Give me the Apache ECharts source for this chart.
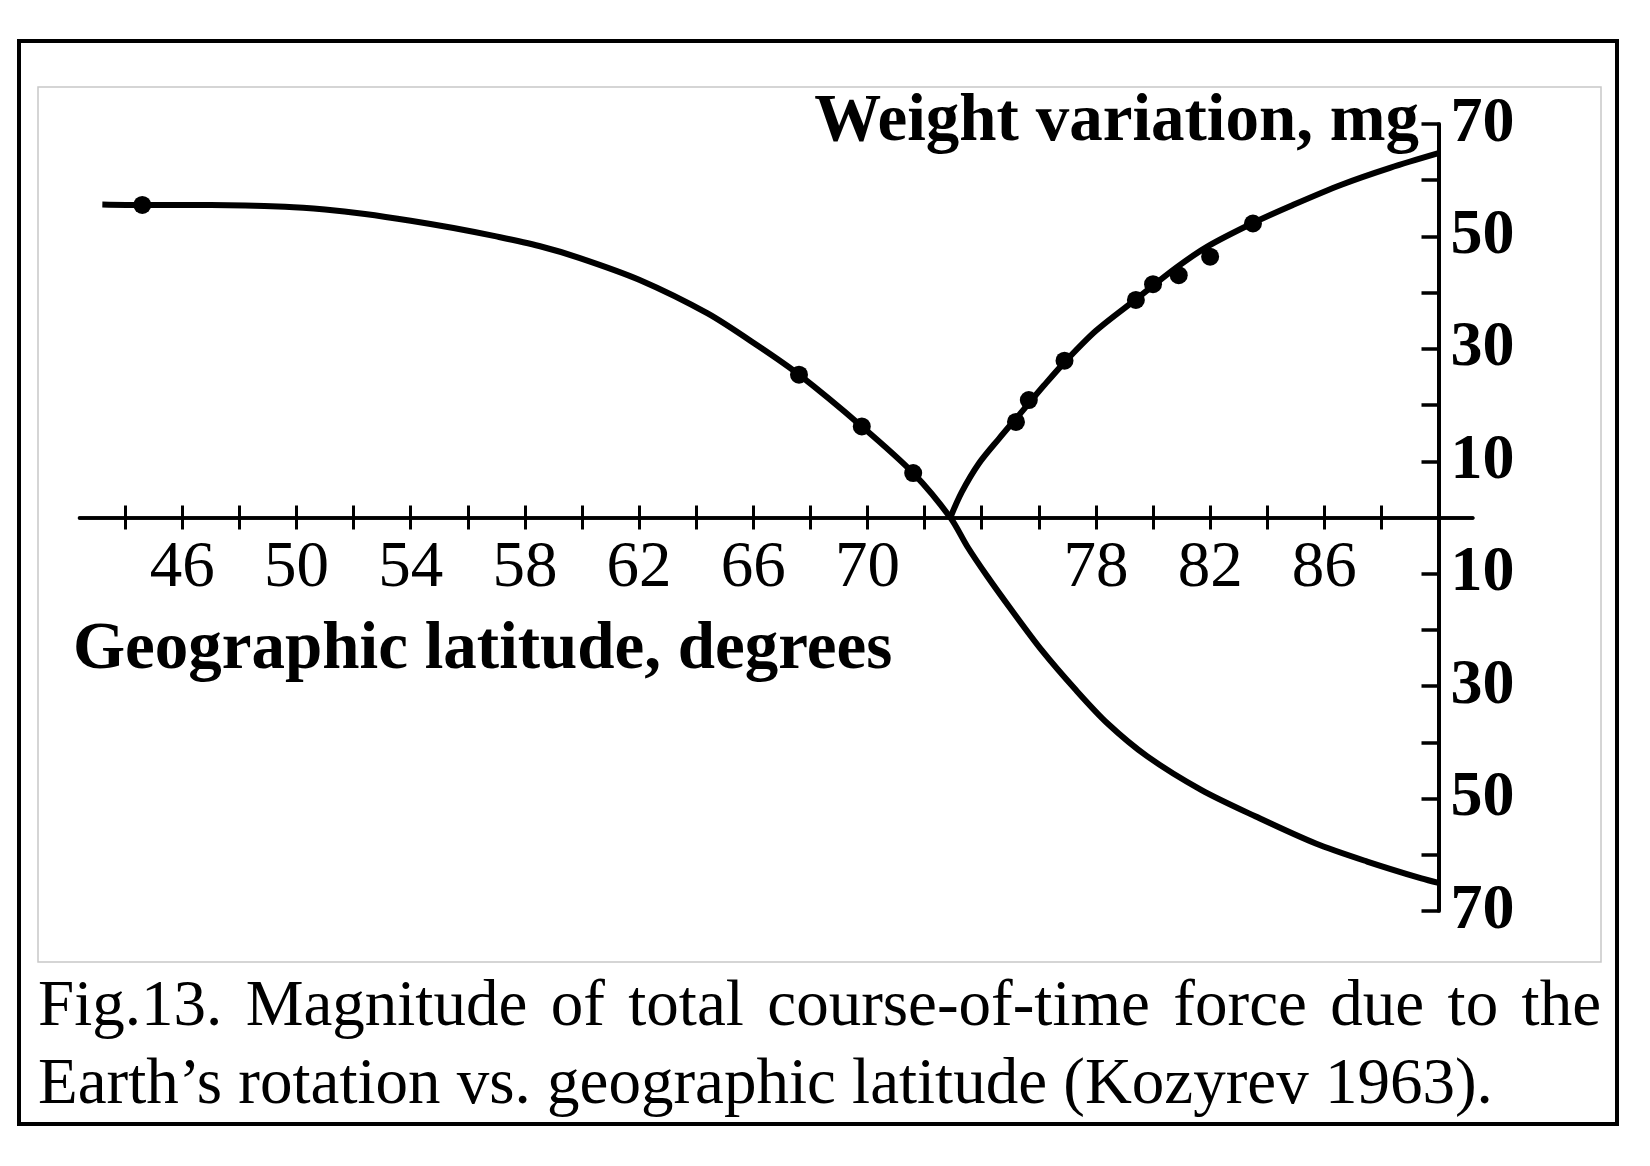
<!DOCTYPE html>
<html>
<head>
<meta charset="utf-8">
<script src="https://cdn.jsdelivr.net/npm/echarts@6/dist/echarts.min.js"></script>
<style>
html, body { margin: 0; padding: 0; background: #fff; }
#chart { position: absolute; left: 0; top: 0; width: 1650px; height: 1166px; }
#caption {
  position: absolute; left: 38px; top: 964px; width: 1563px;
  font-family: "Liberation Serif", "Times New Roman", serif;
  font-size: 65px; line-height: 78px; color: #000;
  text-align: justify; text-align-last: left;
}
</style>
</head>
<body>
<div id="chart"></div>
<div id="caption">Fig.13. Magnitude of total course-of-time force due to the Earth’s rotation vs. geographic latitude (Kozyrev 1963).</div>
<script>
// ---- data ----
// descending curve (falls from +55 mg through zero to about -65 mg)
const descLat = [43.2, 44.6, 47.0, 49.6, 51.0, 52.4, 54.0, 55.5, 57.0, 58.5, 59.9, 62.0, 64.4, 66.2, 67.6, 69.8, 71.6, 72.9, 73.5, 74.2, 75.05, 76.1, 77.3, 78.4, 79.8, 81.7, 83.6, 85.7, 87.5, 89.4, 90.0];
const descVal = [55.7, 55.6, 55.6, 55.3, 54.8, 54.0, 52.8, 51.5, 50.0, 48.3, 46.2, 42.3, 36.3, 30.4, 25.4, 16.2, 7.9, 0, -5.2, -10.5, -16.5, -23.6, -30.7, -36.6, -42.5, -48.5, -53.2, -58.0, -61.2, -64.2, -65.0];
// ascending curve (rises from zero to about +65 mg)
const ascLat = [72.9, 73.3, 73.9, 74.6, 75.4, 76.2, 76.9, 78.0, 79.4, 80.8, 81.9, 83.5, 84.9, 86.6, 88.3, 90.0];
const ascVal = [0, 4.5, 9.6, 14.0, 18.8, 23.6, 27.6, 33.2, 38.8, 44.4, 48.2, 52.4, 55.6, 59.2, 62.2, 64.8];
// measured points (dots)
const dotLat = [44.6, 67.6, 69.8, 71.6, 75.2, 75.65, 76.9, 79.4, 80.0, 80.9, 82.0, 83.5];
const dotVal = [55.6, 25.4, 16.2, 7.9, 17.0, 20.9, 27.9, 38.7, 41.5, 43.1, 46.4, 52.3];
// ticks and labels
const xTickValues = [44, 46, 48, 50, 52, 54, 56, 58, 60, 62, 64, 66, 68, 70, 72, 74, 76, 78, 80, 82, 84, 86, 88];
const xLabelValues = [46, 50, 54, 58, 62, 66, 70, 78, 82, 86];
const yTickValues = [-70, -60, -50, -40, -30, -20, -10, 10, 20, 30, 40, 50, 60, 70];
const yLabelValues = [-70, -50, -30, -10, 10, 30, 50, 70];
const xAxisTitle = 'Geographic latitude, degrees';
const yAxisTitle = 'Weight variation, mg';

// ---- chart ----
const FONT = '"Liberation Serif", "Times New Roman", serif';
const zip = (a, b) => a.map((v, i) => [v, b[i]]);
const chart = echarts.init(document.getElementById('chart'), null, { renderer: 'canvas' });

const GRID_H = 787;
const xAxisBase = {
  type: 'value', min: 42.4, max: 91.2,
  offset: -GRID_H / 2,
  axisLine: { onZero: false, lineStyle: { color: '#000', width: 3.5 } },
  splitLine: { show: false }
};

chart.setOption({
  animation: false,
  backgroundColor: '#fff',
  grid: { left: 79.5, top: 124, width: 1393.3, height: GRID_H, containLabel: false, outerBoundsMode: 'none' },
  title: [
    { text: yAxisTitle, right: 231, top: 89, padding: 0,
      textStyle: { fontFamily: FONT, fontSize: 67, fontWeight: 'bold', color: '#000' } },
    { text: xAxisTitle, left: 73, top: 617, padding: 0,
      textStyle: { fontFamily: FONT, fontSize: 67, fontWeight: 'bold', color: '#000' } }
  ],
  xAxis: [
    Object.assign({}, xAxisBase, {
      position: 'bottom',
      axisTick: { show: true, customValues: xTickValues, length: 12, inside: false, lineStyle: { color: '#000', width: 3 } },
      axisLabel: { show: true, customValues: xLabelValues, margin: 19, color: '#000', fontFamily: FONT, fontSize: 65 }
    }),
    Object.assign({}, xAxisBase, {
      position: 'top',
      axisTick: { show: true, customValues: xTickValues, length: 12, inside: false, lineStyle: { color: '#000', width: 3 } },
      axisLabel: { show: false }
    })
  ],
  yAxis: {
    type: 'value', min: -70, max: 70, position: 'right', offset: -34.3,
    axisLine: { onZero: false, lineStyle: { color: '#000', width: 4 } },
    axisTick: { show: true, customValues: yTickValues, inside: true, length: 17, lineStyle: { color: '#000', width: 3.5 } },
    axisLabel: { customValues: yLabelValues, margin: 12, color: '#000', fontFamily: FONT, fontSize: 64, fontWeight: 'bold',
      formatter: v => String(Math.abs(v)) },
    splitLine: { show: false }
  },
  graphic: [
    { type: 'rect', silent: true, shape: { x: 38, y: 87, width: 1563, height: 875 },
      style: { fill: null, stroke: '#c8c8c8', lineWidth: 1.5 } },
    { type: 'rect', silent: true, shape: { x: 19, y: 41, width: 1598, height: 1083 },
      style: { fill: null, stroke: '#000', lineWidth: 4 } }
  ],
  series: [
    { type: 'line', xAxisIndex: 0, data: zip(descLat, descVal), smooth: 0.3, showSymbol: false, symbol: 'none',
      lineStyle: { color: '#000', width: 6 }, z: 3 },
    { type: 'line', xAxisIndex: 0, data: zip(ascLat, ascVal), smooth: 0.3, showSymbol: false, symbol: 'none',
      lineStyle: { color: '#000', width: 6 }, z: 3 },
    { type: 'scatter', xAxisIndex: 0, data: zip(dotLat, dotVal), symbol: 'circle', symbolSize: 18,
      itemStyle: { color: '#000', opacity: 1 }, z: 4 }
  ]
});
</script>
</body>
</html>
